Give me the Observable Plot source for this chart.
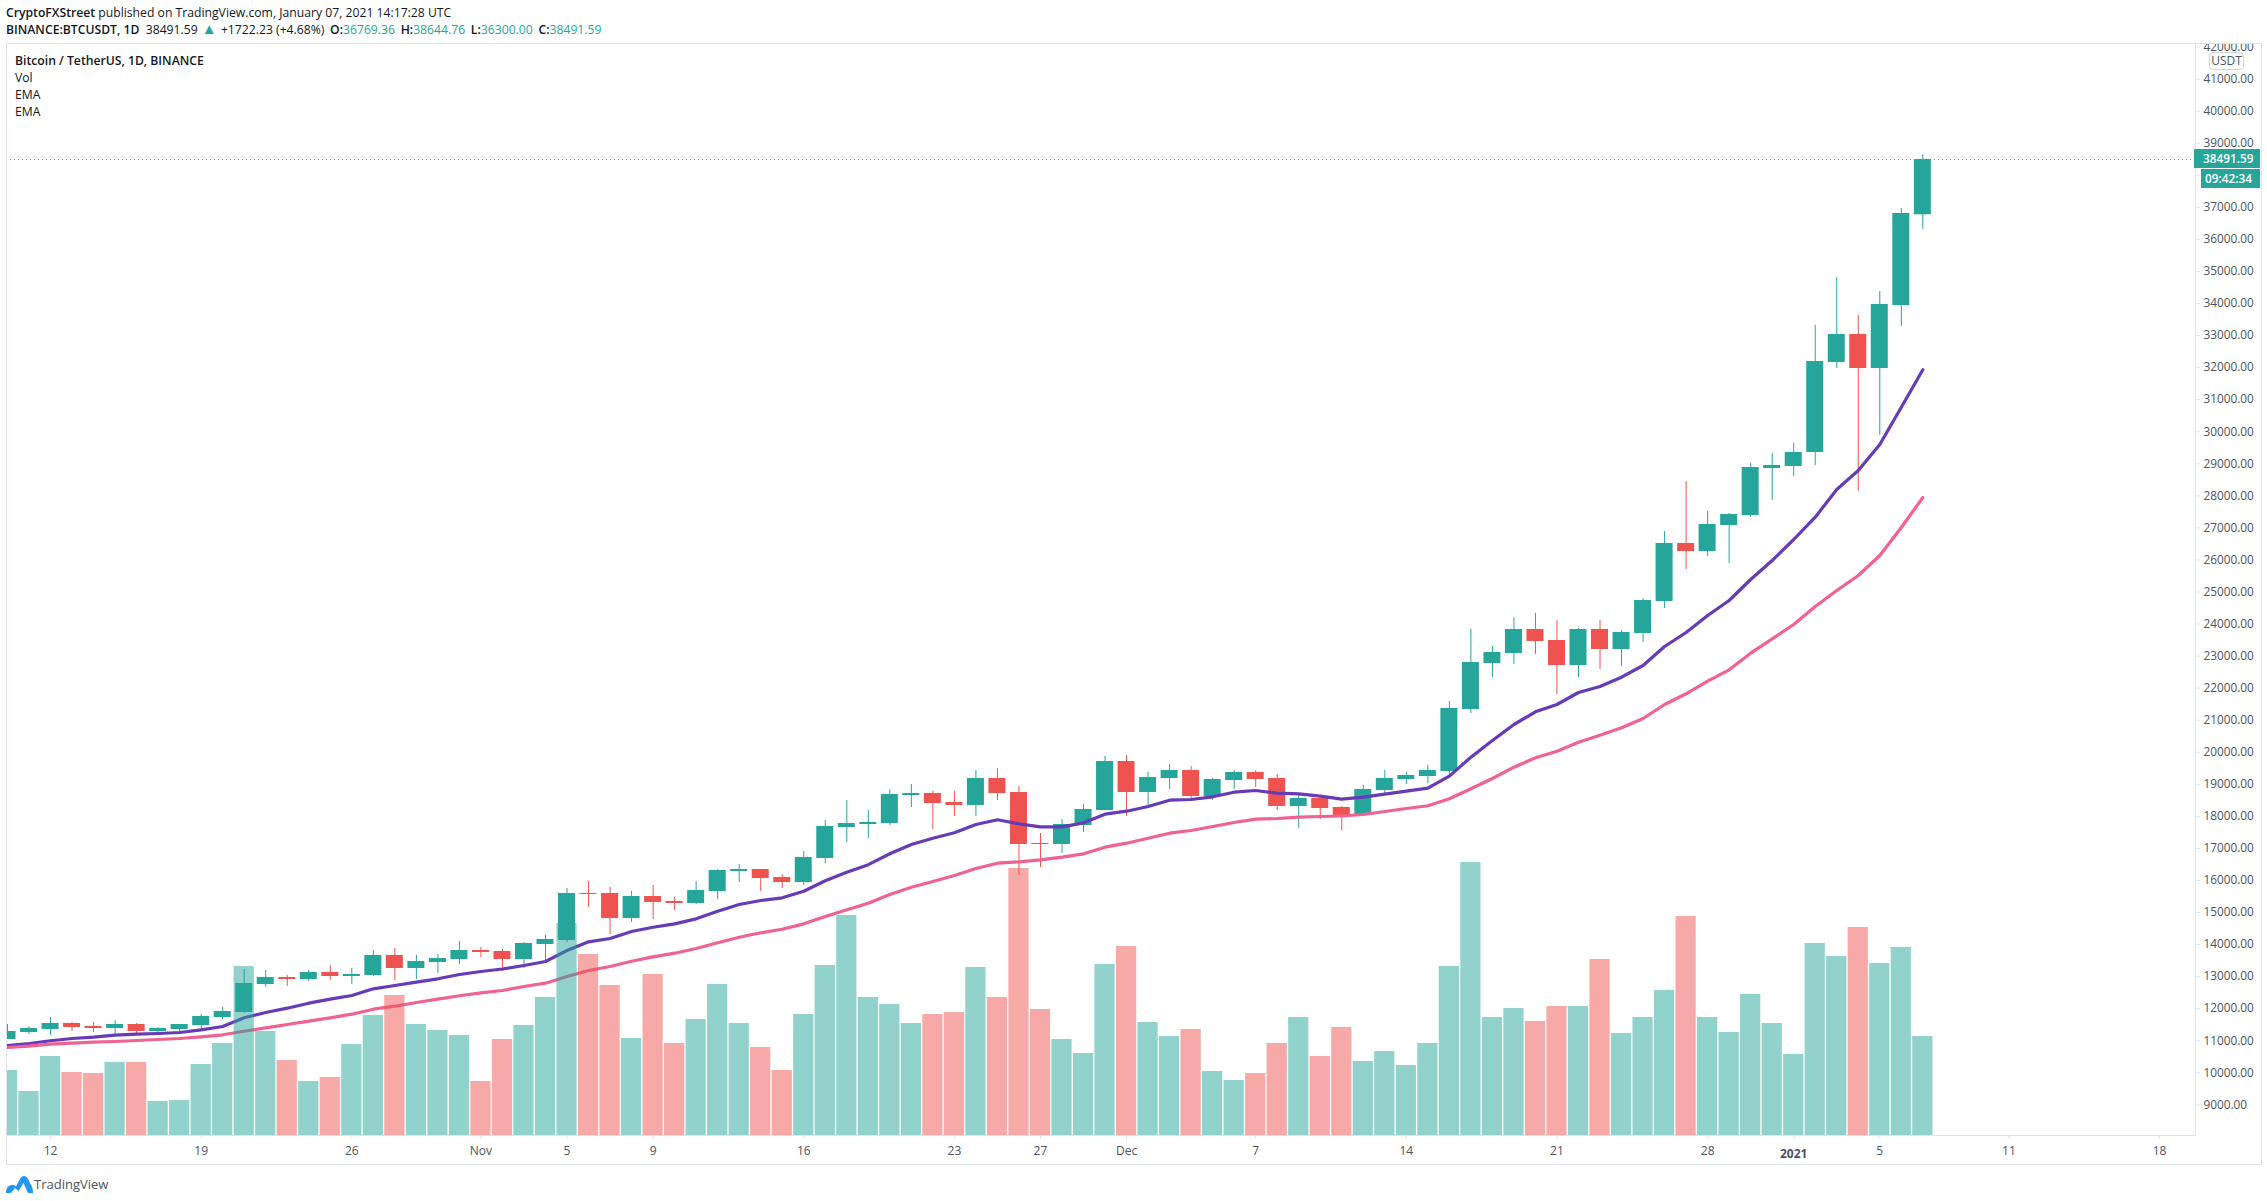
<!DOCTYPE html>
<html>
<head>
<meta charset="utf-8">
<script src="https://cdn.jsdelivr.net/npm/d3@7"></script>
<script src="https://cdn.jsdelivr.net/npm/@observablehq/plot@0.6"></script>
<style>
  html, body { margin: 0; padding: 0; background: #fff; }
  #page { position: relative; width: 2267px; height: 1201px; overflow: hidden; font-family: "Open Sans", "Noto Sans", sans-serif; color: #131722; }
  #head { height: 43px; font-size: 12px; }
  .abs { position: absolute; white-space: nowrap; line-height: 17px; }
  b { font-weight: 600; }
  .g { color: #26a69a; }
  .k { margin-left: 2.5px; }
  .up { font-size: 15px; line-height: 12px; margin: 0 1px; }
  svg { display: block; }
</style>
</head>
<body>
<div id="page">
  <div id="head"></div>
  <div id="chart"></div>
</div>
<script>
const opens = [11038,11257,11350,11537,11444,11381,11506,11288,11350,11475,11725,11881,12754,12973,12910,13129,13004,13035,13659,13253,13441,13534,13815,13784,13534,14002,14127,15593,15593,14813,15499,15344,15281,15656,16280,16342,16093,15936,16686,17652,17746,17777,18651,18713,18433,18339,19181,18745,17154,17123,17715,18183,19712,18745,19181,19431,18620,19119,19369,19181,18308,18557,18277,18027,18807,19150,19244,19400,21334,22770,23081,23830,23487,22707,23830,23206,23705,24704,26513,26263,27075,27387,28853,28916,29353,32161,33034,31973,33939,36769.36];
const highs = [11506,11444,11725,11569,11569,11631,11537,11413,11506,11818,12037,13222,13191,13035,13191,13347,13253,13815,13877,13659,13690,14096,13909,13846,14065,14283,15749,15968,15781,15656,15843,15469,15968,16342,16498,16342,16186,16904,17871,18495,18183,18838,18994,18776,18776,19431,19493,18932,17466,17902,18370,19868,19899,19369,19618,19556,19181,19431,19431,19306,18651,18557,18308,18963,19431,19369,19587,21584,23830,23300,24205,24329,24111,23861,24111,23799,24797,26888,28448,27512,27449,29014,29321,29633,33315,34813,33627,34376,36965,38644.76];
const lows = [11038,11194,11163,11288,11257,11194,11163,11225,11288,11350,11662,11849,12661,12692,12848,12879,12754,13004,12879,12910,13097,13378,13597,13160,13253,13503,14065,15156,14314,14689,14782,15063,15250,15406,15936,15656,15749,15843,16530,17185,17310,17715,18277,17590,17996,17996,18495,16155,16405,16842,17497,18183,17996,18308,18838,18526,18495,18838,18901,18183,17622,17902,17559,17996,18682,18994,19026,19275,21209,22333,22739,23050,21802,22333,22582,22676,23425,24485,25703,26107,25890,27325,27855,28604,28947,31973,28136,29883,33284,36300];
const closes = [11288,11381,11537,11413,11381,11506,11288,11381,11506,11756,11912,12785,12973,12910,13129,13004,13066,13659,13253,13472,13565,13815,13753,13534,14033,14158,15593,15562,14813,15499,15313,15281,15687,16311,16342,16062,15936,16716,17683,17777,17809,18682,18713,18401,18339,19181,18713,17123,17123,17746,18214,19712,18745,19213,19431,18620,19150,19369,19150,18308,18557,18246,18027,18838,19181,19275,19431,21366,22801,23113,23830,23456,22707,23830,23206,23737,24735,26513,26263,27106,27418,28885,28947,29353,32192,33034,31973,33970,36809,38491.59];
const volumes = [39,26.4,47.4,37.8,37.2,43.8,43.8,20.4,21,42.6,55.2,101.4,62.4,45,32.4,34.8,54.6,72,84,66.6,63,60,32.4,57.6,66,82.8,127.2,108.6,90,58.2,96.6,55.2,69.6,90.6,67.2,52.8,39,72.6,102,132,82.8,78.6,67.2,72.6,73.8,100.8,82.8,160.2,75.6,57.6,49.2,102.6,113.4,67.8,59.4,63.6,38.4,33,37.2,55.2,70.8,47.4,64.8,44.4,50.4,42,55.2,101.4,163.8,70.8,76.2,68.4,77.4,77.4,105.6,61.2,70.8,87,131.4,70.8,61.8,84.6,67.2,48.6,115.2,107.4,124.8,103.2,112.8,59.4];
const emaFast = [10851,10913,10998,11069,11110,11172,11204,11225,11257,11341,11444,11715,11881,12015,12171,12296,12411,12620,12723,12826,12932,13066,13160,13238,13347,13472,13815,14086,14189,14407,14541,14647,14803,15040,15250,15375,15459,15665,15990,16255,16492,16832,17123,17319,17487,17746,17893,17768,17674,17674,17799,18068,18161,18308,18504,18526,18610,18754,18807,18723,18704,18629,18536,18598,18692,18786,18879,19254,19847,20367,20866,21262,21490,21865,22052,22342,22707,23300,23737,24267,24735,25390,25983,26638,27334,28198,28791,29602,30766,31933];
const emaSlow = [10789,10829,10892,10923,10954,10976,11007,11038,11069,11122,11185,11297,11403,11506,11609,11715,11828,11984,12077,12193,12296,12402,12495,12567,12692,12795,13004,13191,13316,13481,13618,13731,13877,14055,14230,14367,14479,14647,14875,15084,15290,15562,15790,15968,16155,16373,16538,16582,16645,16726,16832,17038,17163,17319,17475,17559,17684,17809,17912,17933,17974,17996,18011,18058,18152,18246,18330,18548,18860,19181,19534,19827,20033,20314,20532,20763,21053,21490,21824,22217,22573,23091,23540,23986,24548,25047,25515,26139,27013,27949];
const priceTicks = [9000,10000,11000,12000,13000,14000,15000,16000,17000,18000,19000,20000,21000,22000,23000,24000,25000,26000,27000,28000,29000,30000,31000,32000,33000,34000,35000,36000,37000,38000,39000,40000,41000,42000];
const dateTicks = ["2020-10-12","2020-10-19","2020-10-26","2020-11-01","2020-11-05","2020-11-09","2020-11-16","2020-11-23","2020-11-27","2020-12-01","2020-12-07","2020-12-14","2020-12-21","2020-12-28","2021-01-01","2021-01-05","2021-01-11","2021-01-18"];
const dateLabels = ["12","19","26","Nov","5","9","16","23","27","Dec","7","14","21","28","2021","5","11","18"];

const teal = "#26a69a", red = "#ef5350", frameColor = "#e0e3eb", axisText = "#4c525e";
const DAY = 864e5, START = Date.UTC(2020, 9, 10);
const at = i => new Date(START + i * DAY);
const rows = opens.map((o, i) => ({
  i, date: at(i), o, h: highs[i], l: lows[i], c: closes[i], v: volumes[i],
  fast: emaFast[i], slow: emaSlow[i], dir: closes[i] >= o ? "up" : "down"
}));

// Volume shares the pane with price: it is overlaid on a scale of its own, anchored to the pane's floor.
const priceDomain = [8043, 42113];
const volumeToPrice = v => priceDomain[0] + v * 52;
const tickDates = dateTicks.map(s => new Date(s + "T00:00:00Z"));
const label = new Map(tickDates.map((d, k) => [+d, dateLabels[k]]));

const plot = Plot.plot({
  width: 2267, height: 1121,
  marginLeft: 6, marginRight: 72, marginTop: 0, marginBottom: 29,
  style: { fontFamily: '"Open Sans", "Noto Sans", sans-serif', fontSize: "12px", background: "#fff", overflow: "hidden" },
  x: { type: "utc", domain: [at(-0.046), at(101.67)] },
  y: { domain: priceDomain },
  color: { domain: ["up", "down"], range: [teal, red] },
  marks: [
    Plot.frame({ stroke: frameColor, strokeWidth: 1 }),
    Plot.ruleY([closes[closes.length - 1]], { stroke: teal, strokeWidth: 1, strokeDasharray: "1,3" }),
    Plot.ruleX(rows, { x: "date", y1: "l", y2: "h", stroke: "dir", strokeWidth: 1, clip: "frame" }),
    Plot.rect(rows, { x1: d => at(d.i - 0.395), x2: d => at(d.i + 0.395), y1: "o", y2: "c", fill: "dir", clip: "frame" }),
    Plot.line(rows, { x: "date", y: "fast", stroke: "#673ab7", strokeWidth: 3.2, strokeLinejoin: "round", clip: "frame" }),
    Plot.line(rows, { x: "date", y: "slow", stroke: "#f06292", strokeWidth: 3.2, strokeLinejoin: "round", clip: "frame" }),
    Plot.rect(rows, { x1: d => at(d.i - 0.47), x2: d => at(d.i + 0.47), y1: () => priceDomain[0], y2: d => volumeToPrice(d.v), fill: "dir", fillOpacity: 0.5, clip: "frame" }),
    Plot.axisY({ anchor: "right", ticks: priceTicks, tickFormat: d3.format(".2f"), tickSize: 4, tickPadding: 4, label: null, stroke: frameColor, color: axisText, fontSize: 11.8 }),
    Plot.axisX({ ticks: tickDates, tickFormat: d => { const t = label.get(+d); return t === "2021" ? "" : t; }, tickSize: 4, tickPadding: 7, label: null, stroke: frameColor, color: axisText, fontSize: 12 }),
    Plot.text([tickDates[dateLabels.indexOf("2021")]], { x: d => d, frameAnchor: "bottom", dy: 22, text: () => "2021", fontWeight: 700, fontSize: 12, fill: axisText })
  ]
});
document.getElementById("chart").appendChild(plot);

// Header, legend, price tags and logo
const page = document.getElementById("page");
function add(html, css) {
  const d = document.createElement("div");
  d.className = "abs";
  d.style.cssText = css;
  d.innerHTML = html;
  page.appendChild(d);
  return d;
}
add('<b>CryptoFXStreet</b> published on TradingView.com, January 07, 2021 14:17:28 UTC', "left:6px;top:4px;font-size:12.2px;");
add('<b>BINANCE:BTCUSDT, 1D</b>&nbsp; 38491.59 <span class="g up">▲</span> +1722.23 (+4.68%) <b class="k">O:</b><span class="g">36769.36</span> <b class="k">H:</b><span class="g">38644.76</span> <b class="k">L:</b><span class="g">36300.00</span> <b class="k">C:</b><span class="g">38491.59</span>', "left:6px;top:21px;font-size:12.2px;");
add('<b>Bitcoin / TetherUS, 1D, BINANCE</b>', "left:15px;top:52px;font-size:12.2px;");
add('Vol', "left:15px;top:69px;font-size:12.2px;");
add('EMA', "left:15px;top:86px;font-size:12.2px;");
add('EMA', "left:15px;top:103px;font-size:12.2px;");
add('USDT', `left:2209px;top:52px;width:33px;height:16px;line-height:15px;text-align:center;border:1px solid #d1d4dc;border-radius:4px;background:#fff;font-size:12px;color:${axisText};`);
add('38491.59', `left:2194px;top:149px;width:57px;height:19px;line-height:19px;padding-left:9px;background:${teal};color:#fff;font-size:11.8px;font-weight:600;`);
add('09:42:34', `left:2201px;top:169px;width:55px;height:19px;line-height:19px;padding-left:4px;background:${teal};color:#fff;font-size:11.8px;font-weight:600;`);
add('', `left:5.5px;top:43px;width:2254px;height:1120px;border:1px solid ${frameColor};pointer-events:none;`);
add('<svg width="27" height="18" viewBox="0 0 27 18"><path d="M0 18 C0 12 3 10 6.5 10 C8 10 9 10.6 10 11.5 L14 4 C15 2 16.5 1 18 1 C19.5 1 21 2 22 4 L25 10 C26.5 12 27 15 27 18 L22 18 L17.5 8 L12.5 16 L9 13 L5 18 Z" fill="#2196f3"/></svg>', "left:6px;top:1175px;height:18px;line-height:18px;");
add('TradingView', `left:34px;top:1175px;font-size:13px;line-height:18px;color:${axisText};`);
</script>
</body>
</html>
